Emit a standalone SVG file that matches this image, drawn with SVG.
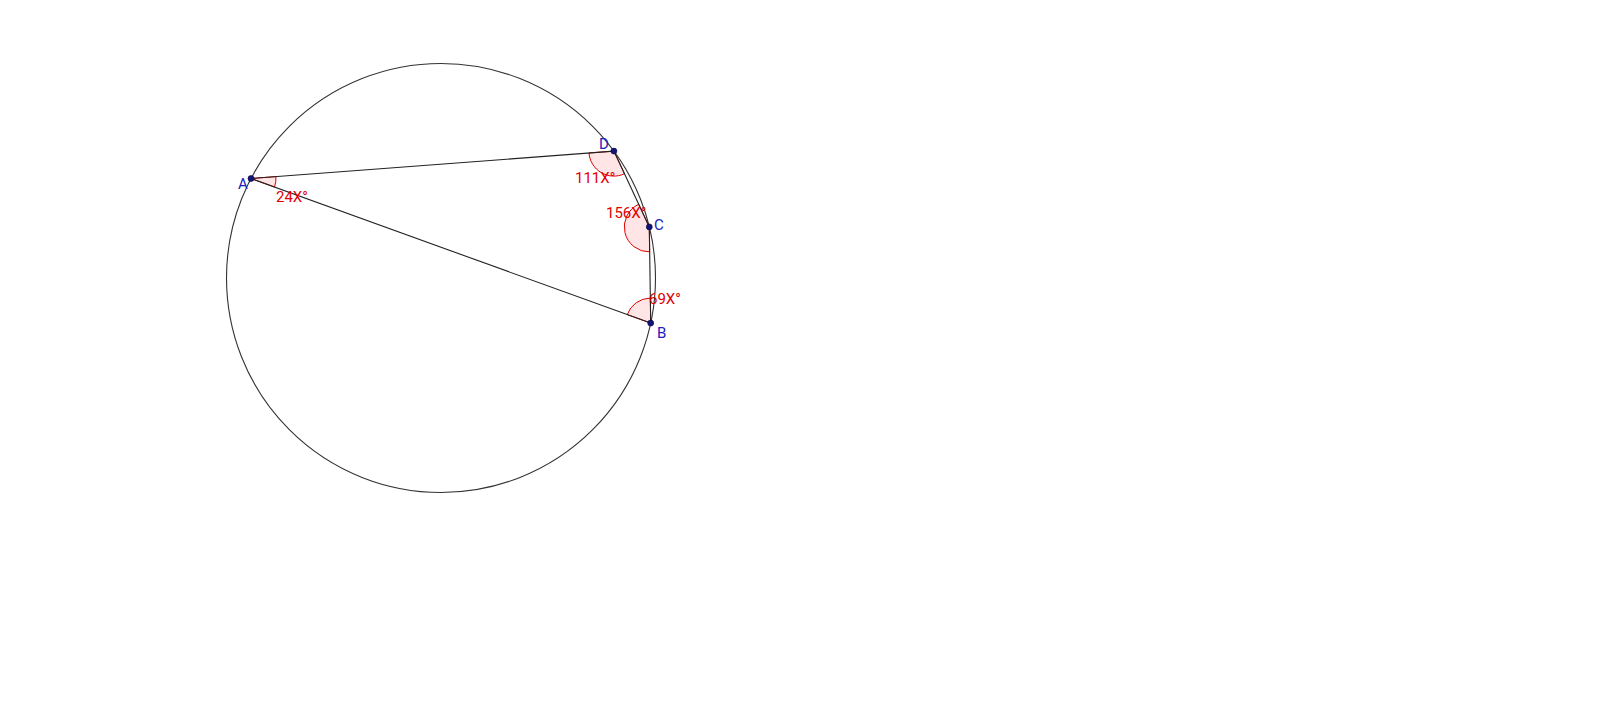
<svg xmlns="http://www.w3.org/2000/svg" width="1600" height="710" viewBox="0 0 1600 710">
<style>
.circ{fill:none;stroke:#333;stroke-width:1.1}
.seg{fill:none;stroke:#222;stroke-width:1.1}
.ang{fill:#ff0000;fill-opacity:0.1;stroke:#dd0000;stroke-width:1}
.pt{fill:#141478;stroke:#000040;stroke-width:0.6}
.lbl{font-family:Roboto,"Liberation Sans",sans-serif;font-size:15px;fill:#2020b8}
.alb{font-family:Roboto,"Liberation Sans",sans-serif;font-size:15px;fill:#e00000}
</style>
<rect width="1600" height="710" fill="#fff"/>
<g id="circle"><circle class="circ" cx="441" cy="278" r="214.5"/></g>
<g id="angles">
<path class="ang" d="M251,178.5 L275.93,176.62 A25,25 0 0 1 274.51,187 Z"/>
<path class="ang" d="M613.9,151.1 L624.48,173.75 A25,25 0 0 1 588.97,152.98 Z"/>
<path class="ang" d="M649.3,226.9 L649.66,251.9 A25,25 0 0 1 638.72,204.25 Z"/>
<path class="ang" d="M650.7,323.1 L627.19,314.6 A25,25 0 0 1 650.34,298.1 Z"/>
</g>
<g id="connectors">
<line class="seg" x1="251" y1="178.5" x2="613.9" y2="151.1"/>
<line class="seg" x1="613.9" y1="151.1" x2="649.3" y2="226.9"/>
<line class="seg" x1="649.3" y1="226.9" x2="650.7" y2="323.1"/>
<line class="seg" x1="650.7" y1="323.1" x2="251" y2="178.5"/>
</g>
<g id="A"><circle class="pt" cx="251" cy="178.5" r="3"/><text class="lbl" x="238" y="189">A</text></g>
<g id="D"><circle class="pt" cx="613.9" cy="151.1" r="3"/><text class="lbl" x="599" y="149">D</text></g>
<g id="C"><circle class="pt" cx="649.3" cy="226.9" r="3"/><text class="lbl" x="654" y="230">C</text></g>
<g id="B"><circle class="pt" cx="650.7" cy="323.1" r="3"/><text class="lbl" x="657" y="338">B</text></g>
<g id="angle-labels">
<text class="alb" x="276" y="202">24X°</text>
<text class="alb" x="575" y="183">111X°</text>
<text class="alb" x="606" y="218">156X°</text>
<text class="alb" x="649" y="304">69X°</text>
</g>
</svg>
